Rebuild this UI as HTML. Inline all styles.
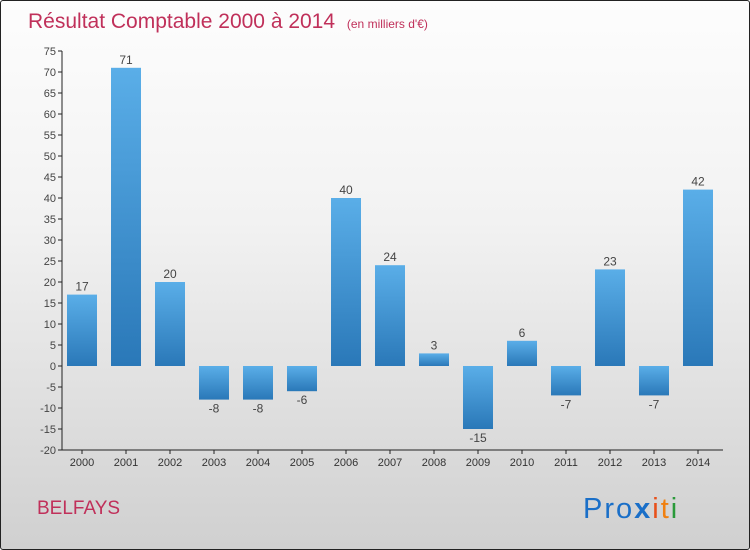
<!DOCTYPE html>
<html><head><meta charset="utf-8"><style>
body{margin:0;}
#c{position:relative;width:748px;height:548px;border:1px solid #222;border-radius:3px;background:linear-gradient(#fdfdfd,#f2f2f2 40%,#d0d0d0);font-family:"Liberation Sans",sans-serif;overflow:hidden}
</style></head><body>
<div id="c">
<svg width="748" height="548" id="s">
<text x="27" y="27" font-size="21" fill="#c0305a">Résultat Comptable 2000 à 2014 <tspan font-size="12" dx="6">(en milliers d'€)</tspan></text>
<text x="36" y="513" font-size="19" fill="#c0305a">BELFAYS</text>
<g font-size="29" font-family="Liberation Sans,sans-serif" letter-spacing="2">
<text x="582" y="517"><tspan fill="#1a6fc8">Pro</tspan><tspan fill="#1a6fc8" font-weight="bold">x</tspan><tspan fill="#e8501a">i</tspan><tspan fill="#f08010">t</tspan><tspan fill="#2a9a3a">i</tspan></text>
</g>
<defs><linearGradient id="g" x1="0" y1="0" x2="0" y2="1"><stop offset="0" stop-color="#5aaee8"/><stop offset="1" stop-color="#2a78b8"/></linearGradient></defs>
<g id="ax"></g><g id="bars"></g>
</svg></div>
<script>
const years=["2000","2001","2002","2003","2004","2005","2006","2007","2008","2009","2010","2011","2012","2013","2014"];
const values=[17,71,20,-8,-8,-6,40,24,3,-15,6,-7,23,-7,42];
const ticks=[-20,-15,-10,-5,0,5,10,15,20,25,30,35,40,45,50,55,60,65,70,75];
const NS="http://www.w3.org/2000/svg";
const y=v=>365-v*4.2;
const x=i=>81+i*44;
function mk(t,a,p){const e=document.createElementNS(NS,t);for(const k in a)e.setAttribute(k,a[k]);p.appendChild(e);return e;}
const ax=document.getElementById('ax'),bars=document.getElementById('bars');
const axis=mk('line',{x1:61,x2:61,y1:y(75),y2:y(-20),stroke:'#222'},ax);


ticks.forEach(t=>{
 mk('line',{x1:57,x2:61,y1:y(t),y2:y(t),stroke:'#222'},ax);
 const tx=mk('text',{x:55,y:y(t)+4,'text-anchor':'end','font-size':11,fill:'#444'},ax);tx.textContent=t;
 
 
});
const xa=mk('line',{x1:61,x2:722,y1:y(-20),y2:y(-20),stroke:'#222'},ax);


years.forEach((yr,i)=>{
 mk('line',{x1:x(i),x2:x(i),y1:y(-20),y2:y(-20)+4,stroke:'#222'},ax);
 const tx=mk('text',{x:x(i),y:y(-20)+16,'text-anchor':'middle','font-size':11,fill:'#333'},ax);tx.textContent=yr;
 
 
 const v=values[i];
 const r=mk('rect',{x:x(i)-15,width:30,y:Math.min(y(v),y(0)),height:Math.abs(y(v)-y(0)),fill:'url(#g)'},bars);
 
 
 const l=mk('text',{x:x(i),y:v>=0?y(v)-4:y(v)+13,'text-anchor':'middle','font-size':12,fill:'#444'},bars);l.textContent=v;
 
 
});
</script>
</body></html>
